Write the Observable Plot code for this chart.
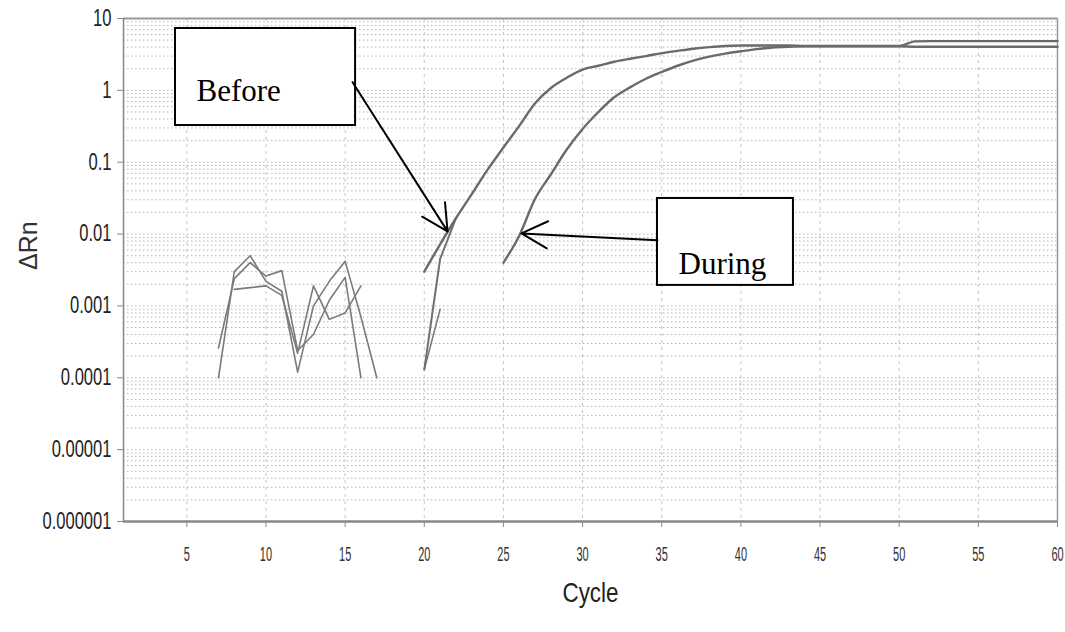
<!DOCTYPE html>
<html><head><meta charset="utf-8">
<script src="https://cdn.jsdelivr.net/npm/d3@7"></script>
<script src="https://cdn.jsdelivr.net/npm/@observablehq/plot@0.6"></script>
<style>
html,body{margin:0;padding:0;background:#fff;}
#chart svg{display:block;}
</style></head><body><div id="chart"></div>
<script>
// ---- data ----
const beforeCycles = [20,21,22,23,24,25,26,27,28,29,30,31,32,33,34,35,36,37,38,39,40,41,42,43,44,45,46,47,48,49,50,51,52,53,54,55,56,57,58,59,60];
const beforeValues = [0.003,0.0072,0.0166,0.036,0.079,0.16,0.32,0.66,1.08,1.5,1.95,2.2,2.5,2.75,3.0,3.3,3.55,3.8,4.0,4.15,4.2,4.2,4.2,4.2,4.15,4.15,4.15,4.15,4.15,4.15,4.15,4.8,4.85,4.85,4.85,4.85,4.85,4.85,4.85,4.85,4.85];
const duringCycles = [25,26,27,28,29,30,31,32,33,34,35,36,37,38,39,40,41,42,43,44,45,46,47,48,49,50,51,52,53,54,55,56,57,58,59,60];
const duringValues = [0.004,0.0095,0.031,0.068,0.15,0.29,0.5,0.8,1.1,1.45,1.8,2.2,2.6,2.95,3.25,3.5,3.75,3.95,4.05,4.1,4.1,4.1,4.1,4.1,4.1,4.1,4.05,4.05,4.05,4.05,4.05,4.05,4.05,4.05,4.05,4.05];
const beforeRep2Cycles = [20,21,22];
const beforeRep2Values = [0.00013,0.0045,0.0166];
const beforeRep3Cycles = [20,21];
const beforeRep3Values = [0.00013,0.0009];
const noise1Cycles = [7,8,9,10,11,12,13,14,15,16,17];
const noise1Values = [0.0001,0.003,0.005,0.0022,0.0016,0.00012,0.001,0.0022,0.0042,0.0007,0.0001];
const noise2Cycles = [7,8,9,10,11,12,13,14,15,16];
const noise2Values = [0.00026,0.0024,0.004,0.0026,0.0031,0.00024,0.0004,0.0012,0.0025,0.0001];
const noise3Cycles = [8,9,10,11,12,13,14,15,16];
const noise3Values = [0.0017,0.0018,0.0019,0.0014,0.00022,0.0019,0.00065,0.0008,0.0019];

const yTicks = [10,1,0.1,0.01,0.001,0.0001,0.00001,0.000001];
const xTicks = [5,10,15,20,25,30,35,40,45,50,55,60];
const minorMultipliers = [2,3,4,5,6,7,8,9];

const annotationLabels = ["Before","During"];
const xTitle = "Cycle";
const yTitle = "\u0394Rn";

// ---- build tables ----
function rowsOf(name, cs, vs){ return cs.map((c,i)=>({series:name, cycle:c, value:vs[i]})); }
const mainRows = [
  ...rowsOf("Before", beforeCycles, beforeValues),
  ...rowsOf("During", duringCycles, duringValues)
];
const startRows = rowsOf("Before-2", beforeRep2Cycles, beforeRep2Values);
const noiseRows = [
  ...rowsOf("Before-3", beforeRep3Cycles, beforeRep3Values),
  ...rowsOf("N1", noise1Cycles, noise1Values),
  ...rowsOf("N2", noise2Cycles, noise2Values),
  ...rowsOf("N3", noise3Cycles, noise3Values)
];
const minorGrid = [];
yTicks.slice(1).forEach(d => minorMultipliers.forEach(m => minorGrid.push(d*m)));
yTicks.slice(1,-1).forEach(d => minorGrid.push(d));
const xGrid = xTicks.slice(0,-1);

const boxes = [
  {label: annotationLabels[0], x1: 4.285, x2: 15.66, y1: 7.26, y2: 0.324, tx: 5.61, ty: 0.722},
  {label: annotationLabels[1], x1: 34.73, x2: 43.32, y1: 0.0313, y2: 0.00193, tx: 36.06, ty: 0.00282}
];
const arrows = [
  {x1: 15.47, y1: 1.3, x2: 21.47, y2: 0.0109},
  {x1: 34.73, y1: 0.0082, x2: 26.14, y2: 0.0102}
];

const sans = "'Liberation Sans',Arial,sans-serif";

const chart = Plot.plot({
  width: 1065, height: 632,
  marginLeft: 123, marginRight: 8, marginTop: 18, marginBottom: 111,
  x: {domain: [1, 60]},
  y: {type: "log", domain: [0.000001, 10]},
  style: {background: "#fff"},
  marks: [
    Plot.ruleY(minorGrid, {stroke: "#b4b4b4", strokeDasharray: "1.5,2.5", strokeWidth: 1}),
    Plot.ruleX(xGrid, {stroke: "#c4c4c4", strokeDasharray: "3,4", strokeWidth: 1}),
    Plot.ruleY([10], {stroke: "#999", strokeWidth: 2}),
    Plot.ruleX([60], {stroke: "#999", strokeWidth: 1.5}),
    Plot.line(noiseRows, {x: "cycle", y: "value", z: "series", stroke: "#7a7a7a", strokeWidth: 1.6}),
    Plot.line(startRows, {x: "cycle", y: "value", z: "series", stroke: "#707070", strokeWidth: 2}),
    Plot.line(mainRows, {x: "cycle", y: "value", z: "series", stroke: "#6a6a6a", strokeWidth: 2.4, curve: "monotone-x"}),
    Plot.ruleX([1], {stroke: "#888", strokeWidth: 1.5}),
    Plot.ruleY([0.000001], {stroke: "#888", strokeWidth: 2.5}),
    Plot.axisY({ticks: yTicks, tickFormat: d => String(d), tickSize: 6, tickPadding: 6, fontSize: 23,
      fontFamily: sans, stroke: "#888", fill: "#222", label: null}),
    Plot.axisX({ticks: xTicks, tickFormat: d => String(d), tickSize: 6, tickPadding: 19, fontSize: 20,
      fontFamily: sans, stroke: "#888", fill: "#333", label: null}),
    Plot.text([xTitle], {frameAnchor: "bottom", dy: 80, text: d => d, fontSize: 28, fontFamily: sans, fill: "#222"}),
    Plot.text([yTitle], {frameAnchor: "left", dx: -95, rotate: -90, text: d => d, fontSize: 25, fontFamily: sans, fill: "#333"}),
    Plot.rect(boxes, {x1: "x1", x2: "x2", y1: "y1", y2: "y2", fill: "white", stroke: "black", strokeWidth: 2}),
    Plot.text(boxes, {x: "tx", y: "ty", text: "label", textAnchor: "start", lineAnchor: "bottom",
      fontSize: 31, fontFamily: "'Liberation Serif','Times New Roman',serif", fill: "black"}),
    Plot.arrow(arrows, {x1: "x1", y1: "y1", x2: "x2", y2: "y2", stroke: "black", strokeWidth: 2, headLength: 22, headAngle: 55})
  ]
});
document.getElementById("chart").append(chart);

// condense tick and title text (narrow look of the original) with textLength
function squeeze(t, s){
  const L = t.getComputedTextLength();
  if (L > 0) {
    t.setAttribute("textLength", (L * s).toFixed(2));
    t.setAttribute("lengthAdjust", "spacingAndGlyphs");
  }
}
const svgRoot = chart.tagName.toLowerCase() === "svg" ? chart : chart.querySelector("svg");
svgRoot.querySelectorAll("text").forEach(t => {
  const g = t.parentNode;
  const lab = (g && g.getAttribute && g.getAttribute("aria-label")) || "";
  const content = t.textContent;
  if (lab.indexOf("y-axis") === 0) squeeze(t, 0.72);
  else if (lab.indexOf("x-axis") === 0) squeeze(t, 0.55);
  else if (content === xTitle) squeeze(t, 0.8);
});
</script>
</body></html>
